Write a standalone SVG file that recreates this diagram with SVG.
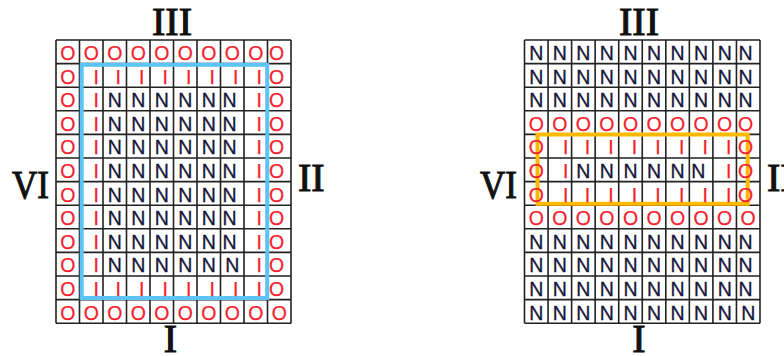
<svg xmlns="http://www.w3.org/2000/svg" width="784" height="356" viewBox="0 0 784 356">
<style>
.grid{fill:none;stroke:#222;stroke-width:1.6}
.r{font-family:"Liberation Sans",Arial,sans-serif;font-size:19.5px;fill:#F5222D;stroke:#F5222D;stroke-width:0.25;text-anchor:middle}
.n{font-family:"Liberation Sans",Arial,sans-serif;font-size:19.5px;fill:#15153A;stroke:#15153A;stroke-width:0.3;text-anchor:middle}
.lbl{font-family:"Liberation Serif","Times New Roman",serif;font-size:40px;fill:#111;stroke:#111;stroke-width:1.1}
.mid{text-anchor:middle}
</style>
<rect width="784" height="356" fill="#fff"/>
<g id="left-grid">
<path class="grid" d="M56 40V323.2M79.5 40V323.2M103 40V323.2M126.5 40V323.2M150 40V323.2M173.5 40V323.2M197 40V323.2M220.5 40V323.2M244 40V323.2M267.5 40V323.2M291 40V323.2M56 40H291M56 63.6H291M56 87.2H291M56 110.8H291M56 134.4H291M56 158H291M56 181.6H291M56 205.2H291M56 228.8H291M56 252.4H291M56 276H291M56 299.6H291M56 323.2H291"/>
<rect x="81.7" y="64.8" width="185.5" height="233.2" fill="none" stroke="#5BC4F5" stroke-width="4"/>
<text class="r">
<tspan x="67.75 91.25 114.75 138.25 161.75 185.25 208.75 232.25 255.75 279.25" y="60">OOOOOOOOOO</tspan>
<tspan x="67.75 96.25 118.25 141.75 165.25 188.75 212.25 235.75 259.25 279.25" y="83.6">OIIIIIIIIO</tspan>
<tspan x="67.75 96.25 259.25 279.25" y="107.2">OIIO</tspan>
<tspan x="67.75 96.25 259.25 279.25" y="130.8">OIIO</tspan>
<tspan x="67.75 96.25 259.25 279.25" y="154.4">OIIO</tspan>
<tspan x="67.75 96.25 259.25 279.25" y="178">OIIO</tspan>
<tspan x="67.75 96.25 259.25 279.25" y="201.6">OIIO</tspan>
<tspan x="67.75 96.25 259.25 279.25" y="225.2">OIIO</tspan>
<tspan x="67.75 96.25 259.25 279.25" y="248.8">OIIO</tspan>
<tspan x="67.75 96.25 259.25 279.25" y="272.4">OIIO</tspan>
<tspan x="67.75 96.25 118.25 141.75 165.25 188.75 212.25 235.75 259.25 279.25" y="296">OIIIIIIIIO</tspan>
<tspan x="67.75 91.25 114.75 138.25 161.75 185.25 208.75 232.25 255.75 279.25" y="319.6">OOOOOOOOOO</tspan>
</text>
<text class="n">
<tspan x="114.75 138.25 161.75 185.25 208.75 232.25" y="107.2">NNNNNN</tspan>
<tspan x="114.75 138.25 161.75 185.25 208.75 232.25" y="130.8">NNNNNN</tspan>
<tspan x="114.75 138.25 161.75 185.25 208.75 232.25" y="154.4">NNNNNN</tspan>
<tspan x="114.75 138.25 161.75 185.25 208.75 232.25" y="178">NNNNNN</tspan>
<tspan x="114.75 138.25 161.75 185.25 208.75 232.25" y="201.6">NNNNNN</tspan>
<tspan x="114.75 138.25 161.75 185.25 208.75 232.25" y="225.2">NNNNNN</tspan>
<tspan x="114.75 138.25 161.75 185.25 208.75 232.25" y="248.8">NNNNNN</tspan>
<tspan x="114.75 138.25 161.75 185.25 208.75 232.25" y="272.4">NNNNNN</tspan>
</text>
</g>
<g id="left-labels">
<text class="lbl mid" x="172" y="35">III</text>
<text class="lbl" x="12" y="198" textLength="37" lengthAdjust="spacingAndGlyphs">VI</text>
<text class="lbl" x="298" y="191">II</text>
<text class="lbl mid" x="170.5" y="352">I</text>
</g>
<g id="right-grid">
<path class="grid" d="M524.5 40V323.2M548.05 40V323.2M571.6 40V323.2M595.15 40V323.2M618.7 40V323.2M642.25 40V323.2M665.8 40V323.2M689.35 40V323.2M712.9 40V323.2M736.45 40V323.2M760 40V323.2M524.5 40H760M524.5 63.6H760M524.5 87.2H760M524.5 110.8H760M524.5 134.4H760M524.5 158H760M524.5 181.6H760M524.5 205.2H760M524.5 228.8H760M524.5 252.4H760M524.5 276H760M524.5 299.6H760M524.5 323.2H760"/>
<rect x="537.5" y="134.5" width="210.2" height="69.3" fill="none" stroke="#FFB900" stroke-width="4"/>
<text class="r">
<tspan x="536.3 559.8 583.4 606.9 630.5 654 677.6 701.1 724.7 748.2" y="130.8">OOOOOOOOOO</tspan>
<tspan x="536.3 565.8 587.4 610.9 634.5 658 681.6 705.1 728.7 748.2" y="154.4">OIIIIIIIIO</tspan>
<tspan x="536.3 565.8 728.7 748.2" y="178">OIIO</tspan>
<tspan x="536.3 565.8 587.4 610.9 634.5 658 681.6 705.1 728.7 748.2" y="201.6">OIIIIIIIIO</tspan>
<tspan x="536.3 559.8 583.4 606.9 630.5 654 677.6 701.1 724.7 748.2" y="225.2">OOOOOOOOOO</tspan>
</text>
<text class="n">
<tspan x="536.3 559.8 583.4 606.9 630.5 654 677.6 701.1 724.7 748.2" y="60">NNNNNNNNNN</tspan>
<tspan x="536.3 559.8 583.4 606.9 630.5 654 677.6 701.1 724.7 748.2" y="83.6">NNNNNNNNNN</tspan>
<tspan x="536.3 559.8 583.4 606.9 630.5 654 677.6 701.1 724.7 748.2" y="107.2">NNNNNNNNNN</tspan>
<tspan x="583.4 606.9 630.5 654 677.6 701.1" y="178">NNNNNN</tspan>
<tspan x="536.3 559.8 583.4 606.9 630.5 654 677.6 701.1 724.7 748.2" y="248.8">NNNNNNNNNN</tspan>
<tspan x="536.3 559.8 583.4 606.9 630.5 654 677.6 701.1 724.7 748.2" y="272.4">NNNNNNNNNN</tspan>
<tspan x="536.3 559.8 583.4 606.9 630.5 654 677.6 701.1 724.7 748.2" y="296">NNNNNNNNNN</tspan>
<tspan x="536.3 559.8 583.4 606.9 630.5 654 677.6 701.1 724.7 748.2" y="319.6">NNNNNNNNNN</tspan>
</text>
</g>
<g id="right-labels">
<text class="lbl mid" x="639" y="35">III</text>
<text class="lbl" x="480" y="198" textLength="37" lengthAdjust="spacingAndGlyphs">VI</text>
<text class="lbl" x="767" y="191">II</text>
<text class="lbl mid" x="639" y="352">I</text>
</g>
</svg>
